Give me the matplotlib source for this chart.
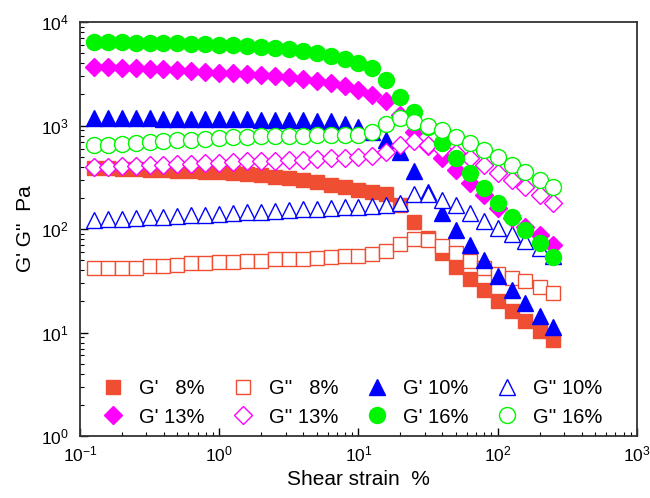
import matplotlib
matplotlib.use('Agg')
import matplotlib.pyplot as plt

plt.rcParams['font.family'] = ['Liberation Sans', 'DejaVu Sans']
plt.rcParams['mathtext.fontset'] = 'custom'
plt.rcParams['mathtext.rm'] = 'Liberation Sans'
plt.rcParams['mathtext.default'] = 'regular'

# shear strain (%)
strain = [0.126, 0.158, 0.2, 0.251, 0.316, 0.398, 0.501, 0.631, 0.794, 1.0,
          1.26, 1.58, 2.0, 2.51, 3.16, 3.98, 5.01, 6.31, 7.94, 10.0,
          12.6, 15.8, 20.0, 25.1, 31.6, 39.8, 50.1, 63.1, 79.4, 100.0,
          126.0, 158.0, 200.0, 251.0]

# moduli (Pa)
g1_8 = [388, 388, 384, 380, 376, 372, 368, 363, 359, 355,
        348, 340, 332, 322, 311, 297, 284, 269, 255, 241,
        228, 218, 171, 117, 82, 58.6, 43, 32.9, 25.7, 20.1,
        16.1, 12.9, 10.3, 8.5]
g2_8 = [41.7, 41.7, 41.7, 41.7, 43.9, 44.2, 44.9, 47.2, 47.2, 47.7,
        48.3, 49.4, 49.4, 51.0, 51.7, 51.7, 52.8, 54.0, 54.5, 55.5,
        57.3, 61.3, 71.6, 80.0, 78.3, 68.5, 58.6, 49.1, 42.0, 36.7,
        33.6, 31.5, 27.5, 24.1]
g1_10 = [1180, 1180, 1180, 1175, 1175, 1170, 1165, 1160, 1160, 1155,
         1150, 1150, 1145, 1140, 1135, 1130, 1120, 1105, 1045, 968,
         865, 724, 555, 363, 228, 143, 98, 70, 50, 35,
         26, 19.3, 14.4, 11.3]
g2_10 = [122, 124, 126, 128, 130, 132, 134, 136, 138, 140,
         142, 145, 147, 150, 152, 155, 157, 160, 162, 164,
         166, 171, 178, 218, 218, 191, 171, 143, 119, 102,
         89.5, 76.6, 65.5, 54.8]
g1_13 = [3675, 3675, 3640, 3600, 3560, 3520, 3440, 3365, 3290, 3240,
         3195, 3145, 3075, 3010, 2920, 2815, 2710, 2575, 2410, 2205,
         1970, 1725, 1262, 865, 634, 485, 372, 278, 213, 160,
         128, 104, 87, 70]
g2_13 = [397, 400, 406, 410, 415, 420, 425, 430, 434, 440,
         444, 450, 454, 460, 464, 470, 475, 485, 490, 496,
         508, 555, 648, 709, 648, 593, 542, 485, 415, 348,
         297, 255, 213, 178]
g1_16 = [6410, 6410, 6410, 6340, 6340, 6270, 6270, 6200, 6130, 6060,
         5995, 5905, 5770, 5645, 5450, 5245, 4985, 4700, 4400, 4050,
         3595, 2755, 1870, 1350, 968, 678, 485, 348, 249, 178,
         131, 98, 73, 54]
g2_16 = [648, 655, 662, 678, 693, 709, 724, 732, 741, 757,
         774, 783, 792, 792, 801, 801, 809, 809, 809, 809,
         865, 1033, 1182, 1081, 989, 905, 774, 678, 580, 496,
         415, 355, 297, 255]

red = '#F04E32'
blue = '#0000FF'
magenta = '#FF00FF'
green = '#00F500'

fig = plt.figure(figsize=(6.5, 4.98), dpi=100)
ax = fig.add_axes([0.123, 0.1245, 0.857, 0.831])

h1, = ax.plot(strain, g1_8, 's', ms=10, color=red, mec=red, label="G'   8%")
h2, = ax.plot(strain, g2_8, 's', ms=10, mfc='white', mec=red, mew=1.0, label="G''   8%")
h3, = ax.plot(strain, g1_10, '^', ms=12, color=blue, mec=blue, label="G' 10%")
h4, = ax.plot(strain, g2_10, '^', ms=12, mfc='white', mec=blue, mew=1.0, label="G'' 10%")
h5, = ax.plot(strain, g1_13, 'D', ms=9.5, color=magenta, mec=magenta, label="G' 13%")
h6, = ax.plot(strain, g2_13, 'D', ms=9.5, mfc='white', mec=magenta, mew=1.0, label="G'' 13%")
h7, = ax.plot(strain, g1_16, 'o', ms=11.5, color=green, mec=green, label="G' 16%")
h8, = ax.plot(strain, g2_16, 'o', ms=11.5, mfc='white', mec=green, mew=1.0, label="G'' 16%")

ax.set_xscale('log')
ax.set_yscale('log')
ax.set_xlim(0.1, 1000)
ax.set_ylim(1, 10000)

ax.tick_params(which='both', direction='in', top=False, right=False, labelsize=12.5)
ax.tick_params(which='major', length=6, width=1)
ax.tick_params(which='minor', length=3, width=0.8)
ax.tick_params(axis='x', pad=6)
ax.tick_params(axis='y', pad=8)
for s in ax.spines.values():
    s.set_linewidth(1.3)
    s.set_color('#333333')

ax.set_xlabel('Shear strain  %', fontsize=15, labelpad=4)
ax.set_ylabel("G' G''  Pa", fontsize=15, labelpad=4)

ax.legend(handles=[h1, h5, h2, h6, h3, h7, h4, h8], ncol=4, frameon=False,
          fontsize=14.5, loc='lower left', bbox_to_anchor=(0.008, -0.016),
          handlelength=1.2, handletextpad=0.7, columnspacing=1.3,
          labelspacing=0.45, borderpad=0.3)

fig.savefig('out.png', dpi=100)
